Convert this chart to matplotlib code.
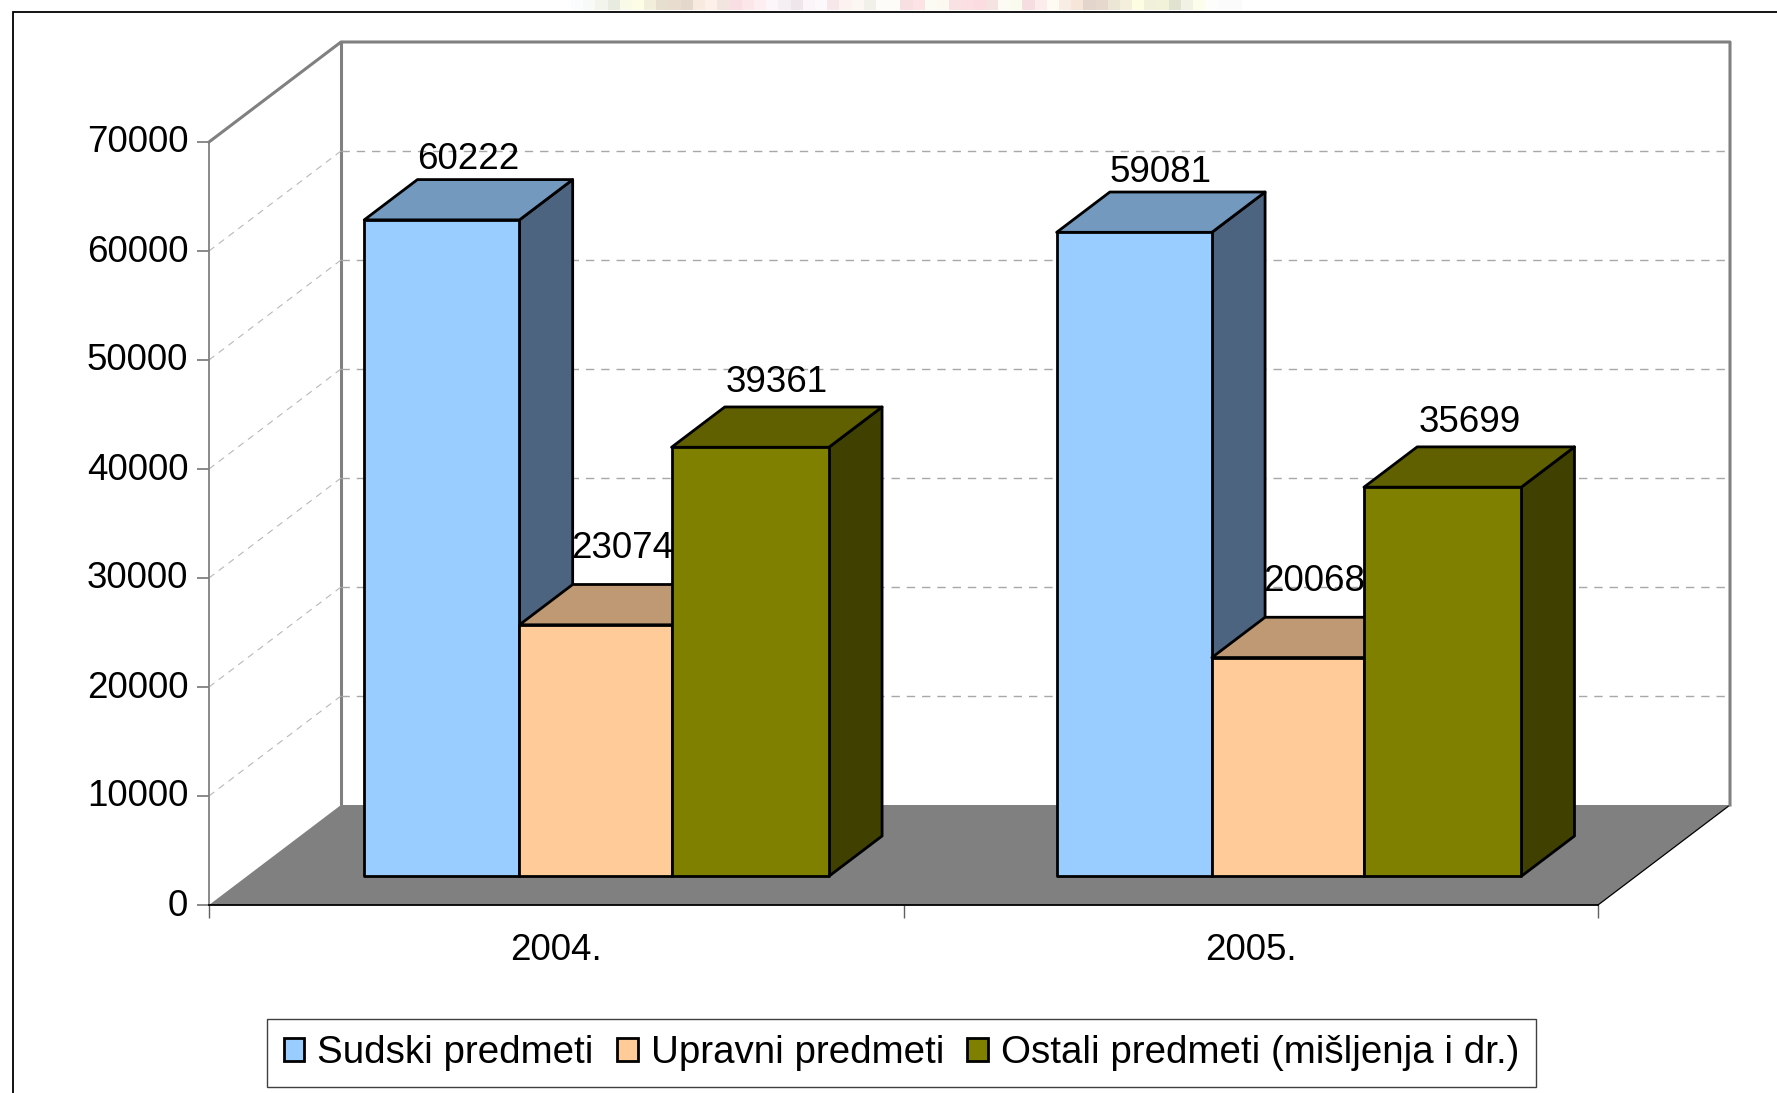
import matplotlib
matplotlib.use("Agg")
import matplotlib.pyplot as plt
from matplotlib.patches import Patch, Polygon, Rectangle
from matplotlib.transforms import Affine2D

# values
years = ["2004.", "2005."]
series = ["Sudski predmeti", "Upravni predmeti", "Ostali predmeti (mišljenja i dr.)"]
sudski = [60222, 59081]
upravni = [23074, 20068]
ostali = [39361, 35699]
y_ticks = [0, 10000, 20000, 30000, 40000, 50000, 60000, 70000]

# faint remains of a picture above the frame
strip_colors = ["#fbfcfd", "#f8faf8", "#f3f4ec", "#e8ebdf", "#fafae8", "#fdfde6", "#f1efdc", "#e6dfcf",
                "#e8dccf", "#e4d8cd", "#f8eade", "#fdf0ea", "#f2e4df", "#f9dfe3", "#fbe6ea", "#fdeef1",
                "#fcf6fa", "#f5eff3", "#efe6ec", "#fbf4f9", "#fdf8fc", "#f7e6ea", "#fcf2f0", "#fdf7f3",
                "#f1f1e9", "#fefcf8", "#fefcf8", "#f8dfe2", "#fbe3e6", "#fbfbf3", "#fcf9f1", "#f9e2e4",
                "#fbdfe3", "#fbdde1", "#f5e3e2", "#fcfcf4", "#f9fbef", "#f6dde1", "#fcecec", "#fefcf2",
                "#f8ede5", "#f6e6da", "#e4d5cc", "#e6d8cc", "#ece6d6", "#f3efdc", "#fdfde2", "#f1f0da",
                "#f2f2da", "#e0e3d0", "#f1f1e6", "#fdfdeb", "#fdfdfb", "#fbfbfb", "#fbfbfb"]

W, H = 1777, 1093
LEFT, RIGHT, BOTTOM, TOP = 209, 1598, 905, 142

# depth of the 3D box in axis units
DX = 132 / (RIGHT - LEFT) * 2
DY = 100 / (BOTTOM - TOP) * 70000
D0, D1 = 0.287, 0.69
GROUP_START = [0.169, 1.166]
BAR_EDGES = [0, 0.2235, 0.4425, 0.669]

plt.rcParams["font.family"] = ["Liberation Sans", "DejaVu Sans"]
FS = 26.5
FS_LEGEND = 27.7

fig = plt.figure(figsize=(W / 100, H / 100), dpi=100)
ax = fig.add_axes([LEFT / W, 1 - BOTTOM / H, (RIGHT - LEFT) / W, (BOTTOM - TOP) / H])
ax.set_xlim(0, 2)
ax.set_ylim(0, 70000)
ax.patch.set_visible(False)


def pt(x, y, d):
    return (x + d * DX, y + d * DY)


def face(points, color, z, edge="none", lw=0):
    ax.add_patch(Polygon(points, closed=True, facecolor=color, edgecolor=edge, linewidth=lw,
                         joinstyle="round", zorder=z, clip_on=False))


# outer frame, runs off the right and bottom of the image
fig.add_artist(Rectangle((12.5 / W, -0.1), 1.2, 1.1 - 11.5 / H, transform=fig.transFigure,
                         facecolor="none", edgecolor="black", linewidth=1.3))
for i, c in enumerate(strip_colors):
    fig.add_artist(Rectangle(((571 + i * 12.2) / W, 1 - 10 / H), 12.2 / W, 10 / H,
                             transform=fig.transFigure, facecolor=c, edgecolor="none"))

# floor and walls
face([pt(0, 0, 0), pt(2, 0, 0), pt(2, 0, 1), pt(0, 0, 1)], "#808080", 1)
ax.plot(*zip(pt(2, 0, 0), pt(2, 0, 1)), color="black", lw=0.9, zorder=2, clip_on=False)
ax.plot(*zip(pt(0, 70000, 0), pt(0, 70000, 1), pt(2, 70000, 1), pt(2, 0, 1)),
        color="#808080", lw=2.2, zorder=2, clip_on=False)
ax.plot(*zip(pt(0, 70000, 1), pt(0, 0, 1)), color="#808080", lw=2.2, zorder=2, clip_on=False)

# dashed grid on the side and back wall
for v in y_ticks[1:-1]:
    ax.plot(*zip(pt(0, v, 0), pt(0, v, 1)), color="#b8b8b8", lw=0.8, ls=(0, (6, 5)), zorder=2, clip_on=False)
    ax.plot(*zip(pt(0, v, 1), pt(2, v, 1)), color="#a8a8a8", lw=1.0, ls=(0, (6, 5)), zorder=2, clip_on=False)

# bars, left to right so the next one covers the side of the last
values = [sudski, upravni, ostali]
fronts = ["#99ccff", "#ffcc99", "#808000"]
tops = ["#7399bf", "#bf9973", "#606000"]
sides = ["#4d6480", "#806650", "#404000"]
lifts = [53, 67, 57]

z = 3
for g in range(len(years)):
    for s in range(len(series)):
        v = values[s][g]
        x0 = GROUP_START[g] + BAR_EDGES[s]
        x1 = GROUP_START[g] + BAR_EDGES[s + 1]
        lw = 2.0
        face([pt(x1, 0, D0), pt(x1, 0, D1), pt(x1, v, D1), pt(x1, v, D0)], sides[s], z, "black", lw)
        face([pt(x0, v, D0), pt(x1, v, D0), pt(x1, v, D1), pt(x0, v, D1)], tops[s], z + 0.1, "black", lw)
        face([pt(x0, 0, D0), pt(x1, 0, D0), pt(x1, v, D0), pt(x0, v, D0)], fronts[s], z + 0.2, "black", lw)
        z += 1
        lx, ly = pt((x0 + x1) / 2, v + lifts[s] * 1.135 / (BOTTOM - TOP) * 70000, D0)
        ax.text(lx + 23.5 * 1.133 / (RIGHT - LEFT) * 2, ly, f"{v}", ha="center", va="center",
                fontsize=FS, color="black", zorder=50, clip_on=False)

# axes
for side in ["top", "right"]:
    ax.spines[side].set_visible(False)
ax.spines["left"].set_color("#808080")
ax.spines["left"].set_linewidth(1.3)
ax.spines["bottom"].set_color("black")
ax.spines["bottom"].set_linewidth(1.3)
ax.spines["bottom"].set_zorder(2.5)
ax.set_yticks(y_ticks)
ax.set_yticklabels([str(t) for t in y_ticks])
ax.tick_params(axis="y", length=9, width=1.3, color="#808080", pad=6, labelsize=FS)
for lab in ax.get_yticklabels():
    lab.set_transform(lab.get_transform() + Affine2D().translate(0, 3))
ax.set_xticks([0, 1, 2])
ax.set_xticklabels([])
ax.set_xticks([0.5, 1.5], minor=True)
ax.set_xticklabels(years, minor=True)
ax.tick_params(axis="x", which="major", length=9, width=1, color="#606060")
ax.tick_params(axis="x", which="minor", length=0, pad=20, labelsize=FS)

handles = [Patch(facecolor=fronts[i], edgecolor="black", linewidth=2.0, label=series[i]) for i in range(3)]
leg = fig.legend(handles=handles, loc="center", bbox_to_anchor=(901.5 / W, 1 - 1053 / H), ncol=3,
                 fontsize=FS_LEGEND, frameon=True, fancybox=False, edgecolor="#404040", framealpha=1,
                 handlelength=0.54, handleheight=0.55, handletextpad=0.34, columnspacing=0.6,
                 borderpad=0.42, borderaxespad=0)
leg.get_frame().set_linewidth(1.0)

fig.savefig("out.png", dpi=100, facecolor="white")
